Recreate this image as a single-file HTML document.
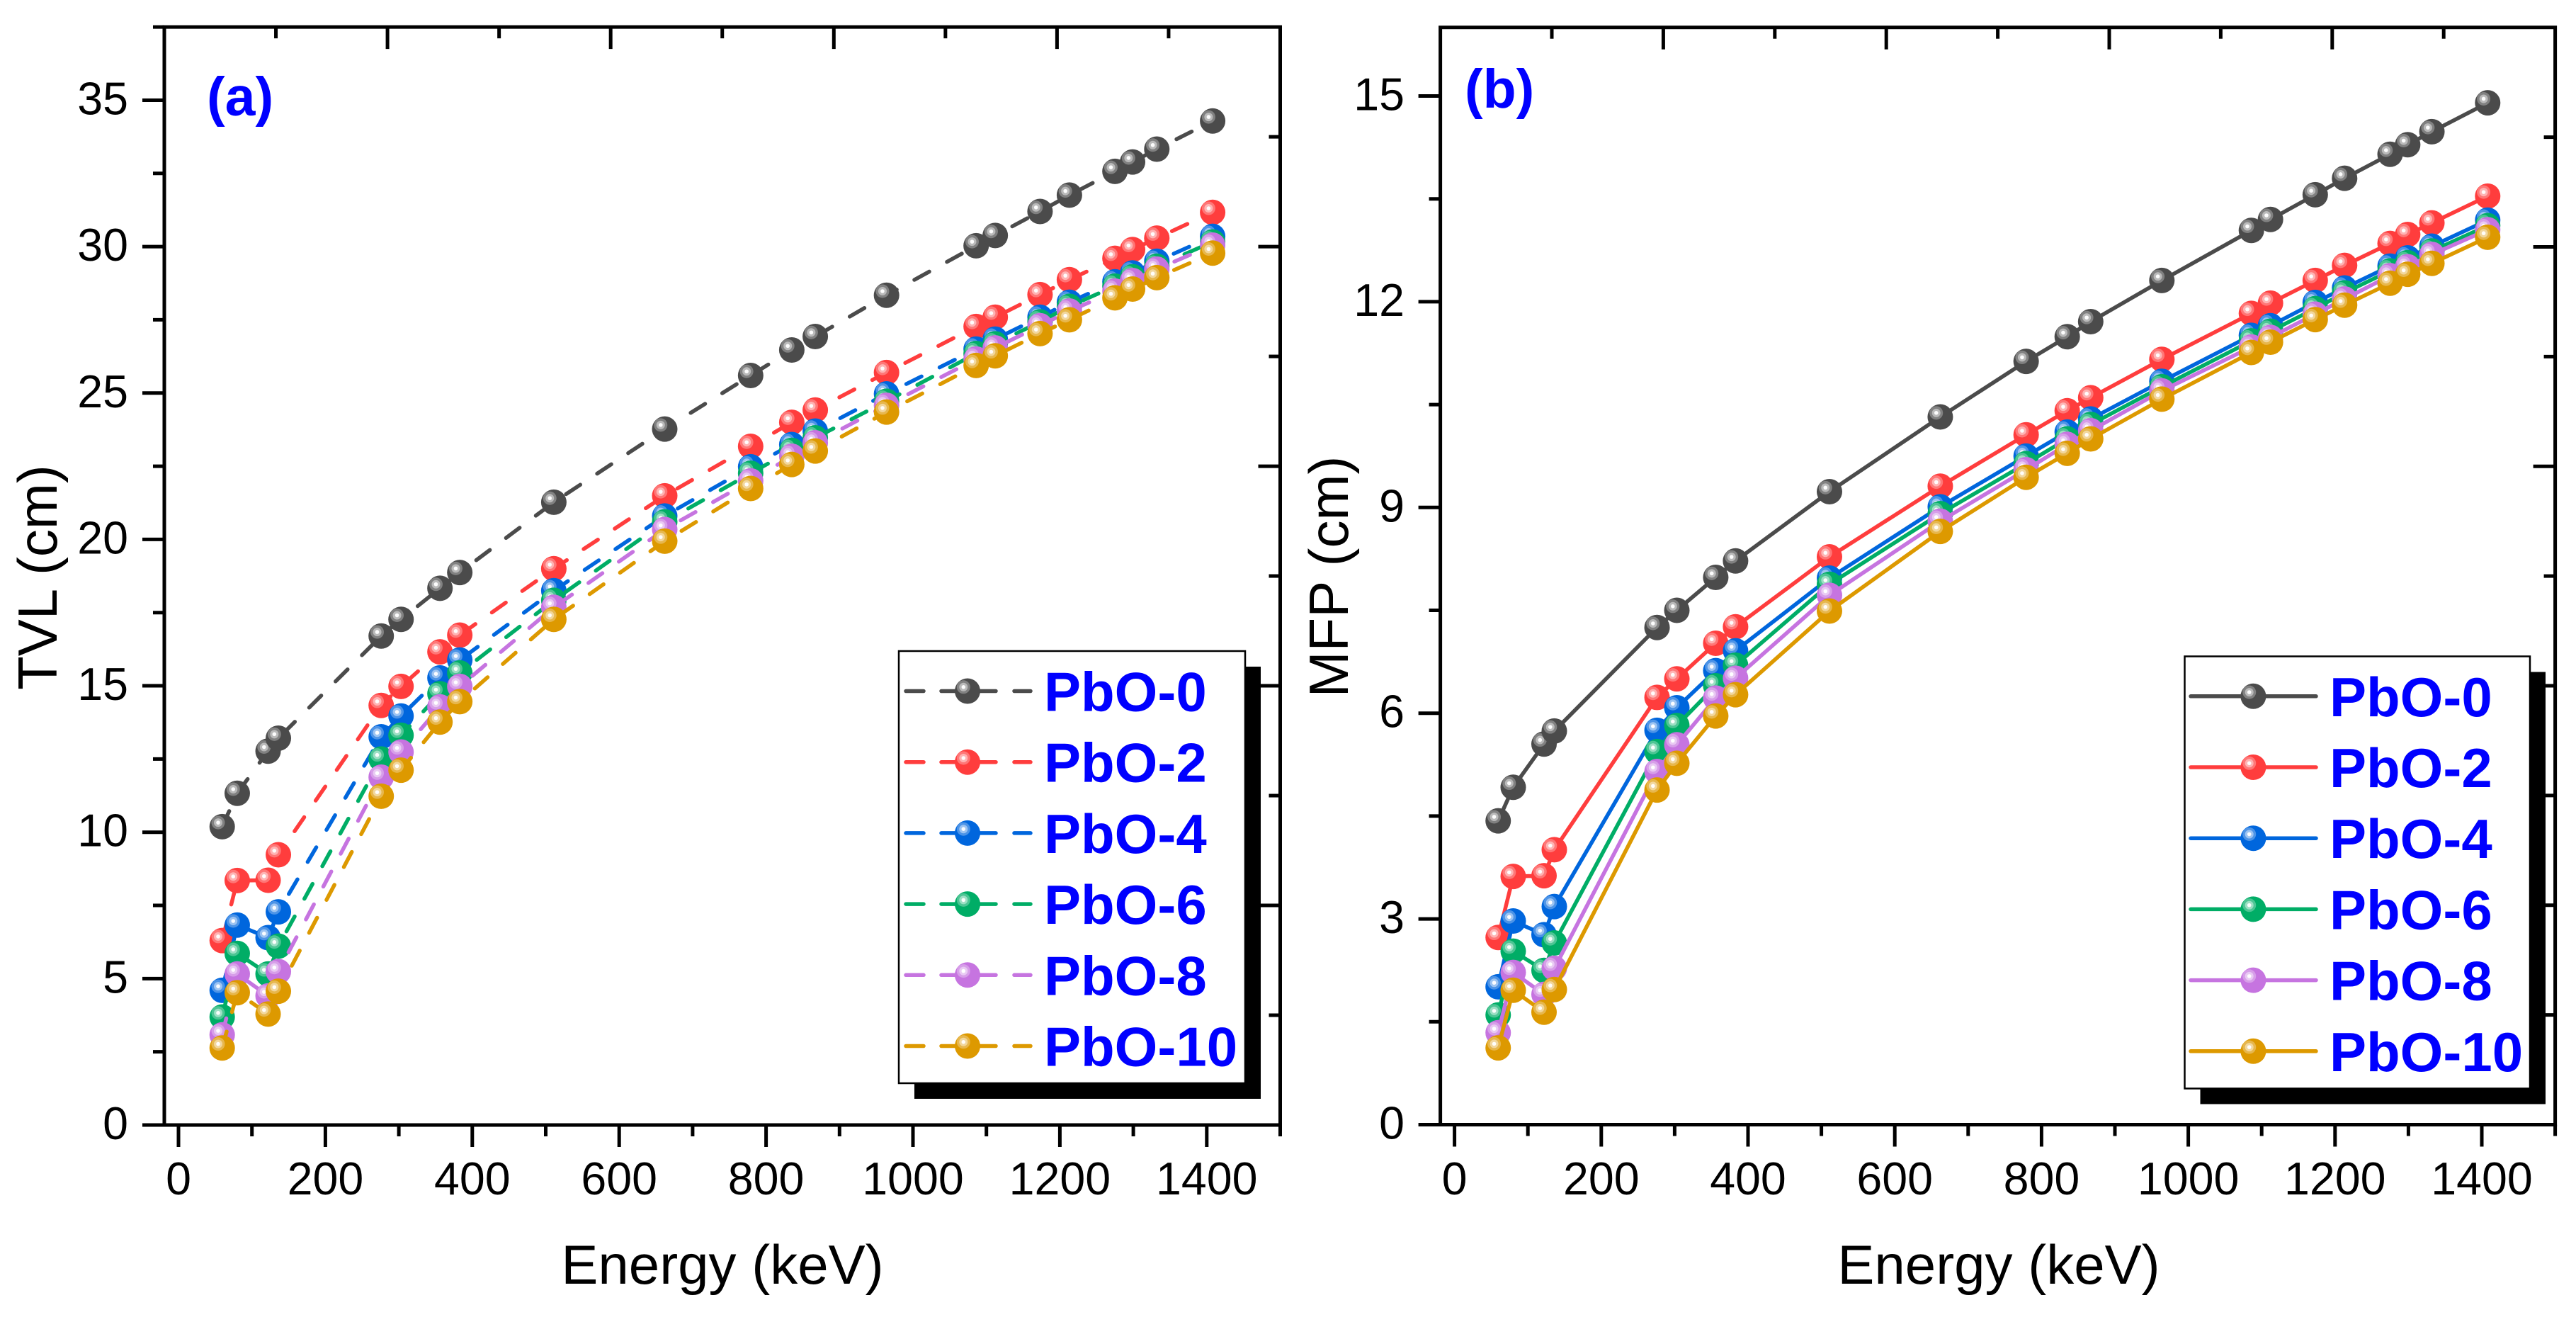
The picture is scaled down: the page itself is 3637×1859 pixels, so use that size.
<!DOCTYPE html>
<html>
<head>
<meta charset="utf-8">
<style>
html,body{margin:0;padding:0;background:#fff;}
svg{display:block;}
text{font-family:"Liberation Sans",Arial,sans-serif;}
</style>
</head>
<body>
<svg id="figure" xmlns="http://www.w3.org/2000/svg" width="3637" height="1859" viewBox="0 0 3637 1859">
<rect x="0" y="0" width="3637" height="1859" fill="#fff"/>
<g id="panel-a"></g>
<g id="panel-b"></g>
<text x="292" y="163" font-size="77" font-weight="bold" fill="#0000ff">(a)</text>
<text x="2068" y="152" font-size="77" font-weight="bold" fill="#0000ff">(b)</text>
<text x="1020" y="1812" font-size="78" text-anchor="middle">Energy (keV)</text>
<text x="2822" y="1812" font-size="78" text-anchor="middle">Energy (keV)</text>
<text transform="translate(80,815) rotate(-90)" font-size="78" text-anchor="middle">TVL (cm)</text>
<text transform="translate(1903,814) rotate(-90)" font-size="78" text-anchor="middle">MFP (cm)</text>
</svg>
<script>
const energies = [59.5,80,122,136,276,303,356,383,511,662,779,835,867,964,1086,1112,1173,1213,1275,1299,1332,1408];
const seriesNames = ["PbO-0","PbO-2","PbO-4","PbO-6","PbO-8","PbO-10"];
const seriesColors = ["#4b4b4b","#ff3d3d","#0066dd","#00ad66","#c674e0","#dd9900"];

const tvlPbO0 = [10.19,11.33,12.77,13.21,16.7,17.27,18.33,18.87,21.27,23.77,25.6,26.47,26.93,28.34,30.03,30.38,31.2,31.76,32.57,32.89,33.33,34.29];
const tvlPbO2 = [6.3,8.35,8.36,9.23,14.33,14.98,16.16,16.73,19.0,21.49,23.18,24.0,24.42,25.7,27.27,27.59,28.36,28.87,29.6,29.9,30.29,31.17];
const tvlPbO4 = [4.6,6.83,6.4,7.28,13.26,13.97,15.27,15.88,18.25,20.8,22.48,23.24,23.7,24.97,26.5,26.84,27.59,28.1,28.8,29.1,29.5,30.35];
const tvlPbO6 = [3.69,5.86,5.16,6.11,12.5,13.31,14.73,15.44,17.92,20.6,22.26,23.04,23.47,24.72,26.35,26.68,27.43,27.96,28.65,28.97,29.33,30.16];
const tvlPbO8 = [3.08,5.16,4.41,5.24,11.88,12.74,14.28,14.98,17.68,20.34,22.0,22.84,23.3,24.58,26.16,26.54,27.3,27.8,28.48,28.84,29.23,30.05];
const tvlPbO10 = [2.63,4.52,3.79,4.57,11.23,12.12,13.76,14.46,17.27,19.94,21.74,22.56,23.02,24.35,25.94,26.27,27.03,27.5,28.25,28.55,28.94,29.78];

const mfpPbO0 = [4.43,4.92,5.55,5.74,7.25,7.5,7.98,8.22,9.23,10.32,11.13,11.49,11.71,12.31,13.04,13.2,13.56,13.8,14.15,14.29,14.48,14.9];
const mfpPbO2 = [2.73,3.62,3.63,4.01,6.23,6.5,7.02,7.26,8.28,9.31,10.06,10.41,10.6,11.16,11.83,11.98,12.31,12.53,12.85,12.98,13.15,13.54];
const mfpPbO4 = [2.01,2.97,2.77,3.18,5.75,6.08,6.62,6.91,7.97,9.01,9.75,10.1,10.29,10.84,11.51,11.65,11.99,12.2,12.52,12.64,12.81,13.19];
const mfpPbO6 = [1.6,2.53,2.25,2.65,5.44,5.82,6.4,6.7,7.88,8.91,9.64,10.0,10.21,10.76,11.43,11.57,11.9,12.13,12.45,12.57,12.74,13.11];
const mfpPbO8 = [1.34,2.22,1.9,2.28,5.15,5.54,6.22,6.51,7.72,8.8,9.55,9.92,10.12,10.7,11.34,11.48,11.82,12.04,12.38,12.51,12.69,13.05];
const mfpPbO10 = [1.12,1.96,1.64,1.97,4.88,5.27,5.96,6.27,7.49,8.65,9.44,9.79,10.0,10.58,11.26,11.41,11.74,11.95,12.27,12.4,12.56,12.94];

const xTickLabels = [0,200,400,600,800,1000,1200,1400];
const tvlTickLabels = [0,5,10,15,20,25,30,35];
const mfpTickLabels = [0,3,6,9,12,15];

const SVGNS = "http://www.w3.org/2000/svg";

function el(tag, parent, attrs) {
  const node = document.createElementNS(SVGNS, tag);
  for (const key in attrs) node.setAttribute(key, attrs[key]);
  parent.appendChild(node);
  return node;
}

function tick(parent, x1, y1, x2, y2, name) {
  const t = el("line", parent, {x1:x1, y1:y1, x2:x2, y2:y2, stroke:"#000", "stroke-width":5});
  
  
}

function marker(parent, cx, cy, color, name) {
  const g = el("g", parent, {});
  
  
  el("circle", g, {cx:cx, cy:cy, r:18, fill:color});
  el("circle", g, {cx:cx-5.7, cy:cy-5.7, r:9.5, fill:"#fff", "fill-opacity":0.3});
  el("circle", g, {cx:cx-5.7, cy:cy-5.7, r:6, fill:"#fff", "fill-opacity":0.45});
  el("circle", g, {cx:cx-5.7, cy:cy-5.7, r:2.8, fill:"#fff", "fill-opacity":0.95});
}

function drawPanel(cfg) {
  const root = document.getElementById(cfg.id);
  const xScale = v => cfg.x0 + v * cfg.xPerUnit;
  const yScale = v => cfg.y0 - v * cfg.yPerUnit;
  const left = xScale(-19.3), right = xScale(1500);
  const bottom = cfg.y0, top = yScale(cfg.yMax);

  const axes = el("g", root, {});
  
  

  const frame = el("rect", axes, {x:left, y:top, width:right-left, height:bottom-top, fill:"none", stroke:"#000", "stroke-width":5});
  
  

  for (let v = 0; v <= 1500; v += 100) {
    const major = v % 200 === 0;
    tick(axes, xScale(v), bottom, xScale(v), bottom + (major ? 31 : 16), major ? 'x-major-tick' : 'x-minor-tick');
  }
  for (let i = 0; i < xTickLabels.length; i++) {
    const t = el("text", axes, {x:xScale(xTickLabels[i]), y:1686, "font-size":64.5, "text-anchor":"middle"});
    
    
    t.textContent = xTickLabels[i];
  }

  const step = cfg.yTicks[1] - cfg.yTicks[0];
  for (let k = 0; k * step / 2 <= cfg.yMax + 0.001; k++) {
    const v = k * step / 2;
    const major = k % 2 === 0;
    tick(axes, left, yScale(v), left - (major ? 31 : 16), yScale(v), major ? 'y-major-tick' : 'y-minor-tick');
  }
  for (let i = 0; i < cfg.yTicks.length; i++) {
    const t = el("text", axes, {x:cfg.yLabelX, y:yScale(cfg.yTicks[i]) + 20, "font-size":64.5, "text-anchor":"end"});
    
    
    t.textContent = cfg.yTicks[i];
  }

  for (let k = 1; k < 10; k++) {
    const major = k % 2 === 0;
    const tx = left + (right - left) * k / 10;
    const ty = bottom - (bottom - top) * k / 10;
    tick(axes, tx, top, tx, top + (major ? 31 : 16), major ? 'top-major-tick' : 'top-minor-tick');
    tick(axes, right, ty, right - (major ? 31 : 16), ty, major ? 'right-major-tick' : 'right-minor-tick');
  }

  for (let s = 0; s < cfg.series.length; s++) {
    const values = cfg.series[s];
    const g = el("g", root, {});
    
    
    const pts = values.map((v, i) => xScale(energies[i]).toFixed(1) + "," + yScale(v).toFixed(1)).join(" ");
    const line = el("polyline", g, {points:pts, fill:"none", stroke:seriesColors[s], "stroke-width":5.5, "stroke-linejoin":"round", "stroke-linecap":"round"});
    if (cfg.dashed) {
      line.setAttribute("stroke-dasharray", "24 28.5");
    }
    
    
    for (let i = 0; i < values.length; i++) {
      marker(g, xScale(energies[i]), yScale(values[i]), seriesColors[s], 'data-point');
    }
  }

  const lg = cfg.legend;
  const legend = el("g", root, {});
  
  
  const shadow = el("rect", legend, {x:lg.x + 22, y:lg.y + 22, width:lg.w, height:lg.h, fill:"#000"});
  
  
  const box = el("rect", legend, {x:lg.x, y:lg.y, width:lg.w, height:lg.h, fill:"#fff", stroke:"#000", "stroke-width":2.5});
  
  
  for (let s = 0; s < seriesNames.length; s++) {
    const cy = lg.rowY + s * 100.2;
    const entry = el("g", legend, {});
    
    
    if (cfg.dashed) {
      el("line", entry, {x1:lg.lineX1, y1:cy, x2:lg.lineX1 + 25, y2:cy, stroke:seriesColors[s], "stroke-width":5.5, "stroke-linecap":"round"});
      el("line", entry, {x1:lg.lineX1 + 50, y1:cy, x2:lg.lineX1 + 127, y2:cy, stroke:seriesColors[s], "stroke-width":5.5, "stroke-linecap":"round"});
      el("line", entry, {x1:lg.lineX1 + 153, y1:cy, x2:lg.lineX2, y2:cy, stroke:seriesColors[s], "stroke-width":5.5, "stroke-linecap":"round"});
    } else {
      el("line", entry, {x1:lg.lineX1, y1:cy, x2:lg.lineX2, y2:cy, stroke:seriesColors[s], "stroke-width":5.5, "stroke-linecap":"round"});
    }
    marker(entry, lg.markerX, cy, seriesColors[s], 'legend-marker');
    const label = el("text", entry, {x:lg.textX, y:cy + 28, "font-size":78, "font-weight":"bold", fill:"#0000ff"});
    
    
    label.textContent = seriesNames[s];
  }
}

drawPanel({
  id:"panel-a", x0:252, xPerUnit:1.037, y0:1588, yPerUnit:41.33, yMax:37.5,
  yTicks:tvlTickLabels, yLabelX:181, dashed:true,
  series:[tvlPbO0,tvlPbO2,tvlPbO4,tvlPbO6,tvlPbO8,tvlPbO10],
  legend:{x:1269, y:919, w:489, h:610, rowY:975.5, lineX1:1279, lineX2:1455, markerX:1366, textX:1474}
});
drawPanel({
  id:"panel-b", x0:2053.6, xPerUnit:1.036, y0:1587.5, yPerUnit:96.8, yMax:16,
  yTicks:mfpTickLabels, yLabelX:1983, dashed:false,
  series:[mfpPbO0,mfpPbO2,mfpPbO4,mfpPbO6,mfpPbO8,mfpPbO10],
  legend:{x:3084.5, y:926.5, w:487.5, h:610, rowY:982.8, lineX1:3093, lineX2:3270, markerX:3181.4, textX:3289}
});
</script>
</body>
</html>
